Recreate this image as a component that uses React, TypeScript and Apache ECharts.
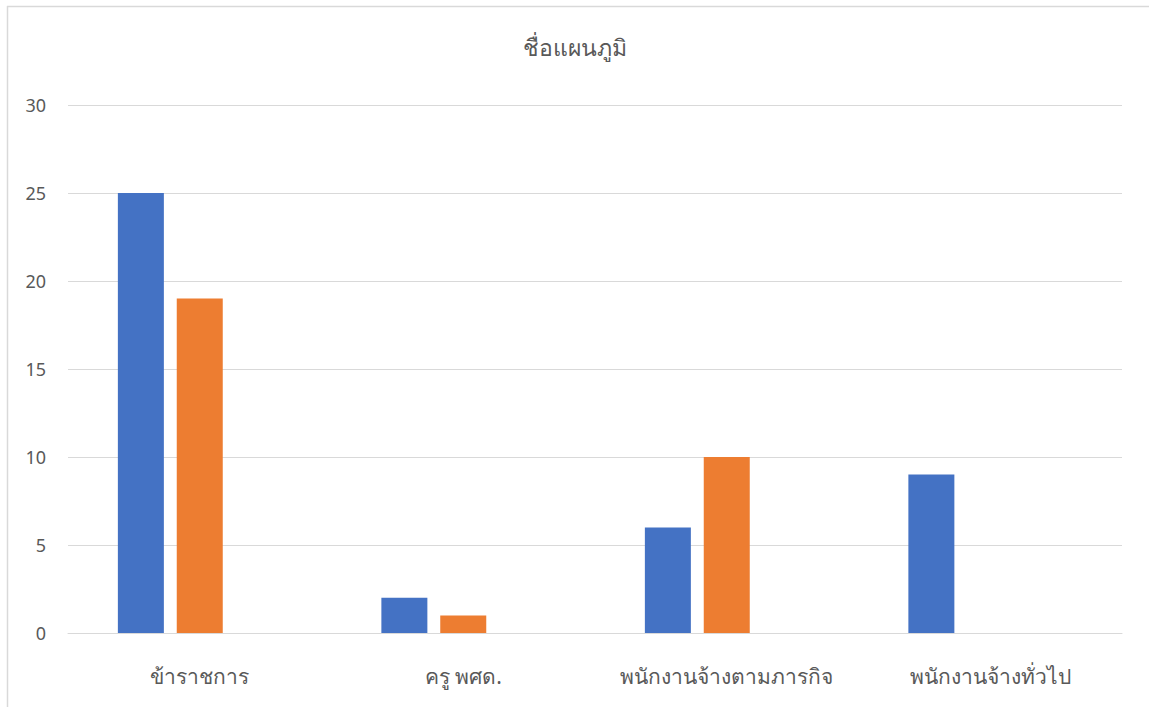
import React, { useEffect, useRef } from "react";
import * as echarts from "echarts";

const categories = ["ข้าราชการ", "ครู พศด.", "พนักงานจ้างตามภารกิจ", "พนักงานจ้างทั่วไป"];
const series1 = [25, 2, 6, 9];
const series2 = [19, 1, 10, 0];
const series3 = [0, 0, 0, 0];
const yTicks = { min: 0, max: 30, interval: 5 };
const title = "ชื่อแผนภูมิ";

export default function App() {
  const ref = useRef<HTMLDivElement>(null);
  useEffect(() => {
    const chart = echarts.init(ref.current!, null, { renderer: "svg" });
    const font = "'Noto Sans', 'DejaVu Sans', sans-serif";
    chart.setOption({
      animation: false,
      backgroundColor: "#ffffff",
      title: {
        text: title,
        left: "center",
        top: 30,
        textStyle: { fontSize: 23, fontWeight: "normal", color: "#595959", fontFamily: font },
      },
      grid: { left: 68, right: 27, top: 105, bottom: 74 },
      xAxis: {
        type: "category",
        data: categories,
        axisLine: { lineStyle: { color: "#d9d9d9", width: 1 } },
        axisTick: { show: false },
        axisLabel: { color: "#595959", fontSize: 21, margin: 32, fontFamily: font, interval: 0, hideOverlap: false },
      },
      yAxis: {
        type: "value",
        min: yTicks.min,
        max: yTicks.max,
        interval: yTicks.interval,
        axisLine: { show: false },
        axisTick: { show: false },
        splitLine: { lineStyle: { color: "#d9d9d9", width: 1 } },
        axisLabel: { color: "#595959", fontSize: 18, margin: 22, fontFamily: font },
      },
      graphic: [
        { type: "line", shape: { x1: 7.5, y1: 6, x2: 7.5, y2: 707 }, style: { stroke: "#d9d9d9", lineWidth: 1.5 } },
        { type: "line", shape: { x1: 7, y1: 6.5, x2: 1149, y2: 6.5 }, style: { stroke: "#d9d9d9", lineWidth: 1.5 } },
      ],
      series: [
        { type: "bar", data: series1, barWidth: 46, barGap: "28%", itemStyle: { color: "#4472C4" } },
        { type: "bar", data: series2, barWidth: 46, barGap: "28%", itemStyle: { color: "#ED7D31" } },
        { type: "bar", data: series3, barWidth: 46, barGap: "28%", itemStyle: { color: "#A5A5A5" } },
      ],
    });
    return () => chart.dispose();
  }, []);
  return (
    <div style={{ position: "fixed", left: 0, top: 0, width: 1149, height: 707, overflow: "hidden", background: "#fff" }}>
      <div ref={ref} style={{ width: 1149, height: 707 }} />
    </div>
  );
}
